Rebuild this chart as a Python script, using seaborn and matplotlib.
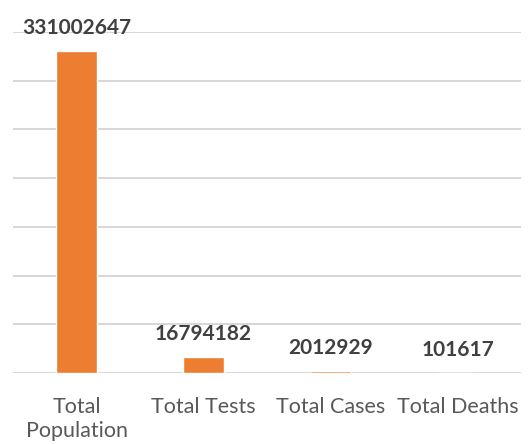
import matplotlib
matplotlib.use("Agg")
import matplotlib.pyplot as plt
import seaborn as sns
import pandas as pd

# datos
categorias = ["Total\nPopulation", "Total Tests", "Total Cases", "Total Deaths"]
valores = [331002647, 16794182, 2012929, 101617]

df = pd.DataFrame({"categoria": categorias, "valor": valores})

sns.set_style("white")
plt.rcParams['font.family'] = ['Lato', 'DejaVu Sans']

fig = plt.figure(figsize=(5.32, 4.44), dpi=100)
ax = fig.add_axes([13 / 532, 1 - 373 / 444, 508 / 532, 341 / 444])

sns.barplot(data=df, x="categoria", y="valor", color="#ED7D31", width=0.315,
            saturation=1, ax=ax, zorder=3)

ax.set_ylim(0, 350000000)
ax.set_yticks(range(0, 350000001, 50000000))
ax.yaxis.grid(True, color="#d4d4d4", linewidth=1.3, zorder=0)
ax.set_yticklabels([])
ax.tick_params(axis="y", length=0)
ax.tick_params(axis="x", length=0, pad=17, labelsize=15.5, labelcolor="#595959")
for lbl in ax.get_xticklabels():
    lbl.set_linespacing(1.3)
for s in ax.spines.values():
    s.set_visible(False)
ax.set_xlabel("")
ax.set_ylabel("")

# etiquetas de valores
for i, v in enumerate(valores):
    ax.annotate(str(v), (i, v), xytext=(0, 12), textcoords="offset points",
                ha="center", va="baseline", fontsize=15, fontweight="bold",
                color="#404040", zorder=4)

fig.savefig("out.png", dpi=100)
